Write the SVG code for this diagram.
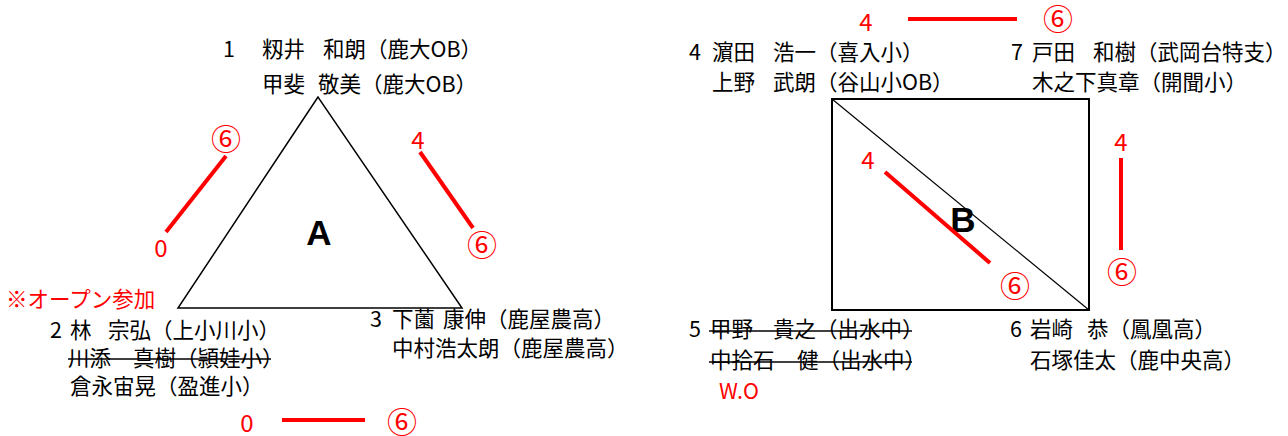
<svg xmlns="http://www.w3.org/2000/svg" width="1288" height="436" viewBox="0 0 1288 436">
<style>
.t{font-family:"Noto Sans CJK JP","Noto Sans",sans-serif;font-size:21.5px;fill:#000}
.r{font-family:"Noto Sans CJK JP","Noto Sans",sans-serif;font-size:24px;fill:#ff0000;text-anchor:middle}
.c{font-family:"Noto Sans CJK JP","Noto Sans",sans-serif;font-size:30px;fill:#ff0000;text-anchor:middle}
.rs{font-family:"Noto Sans CJK JP","Noto Sans",sans-serif;font-size:21.5px;fill:#ff0000}
.big{font-family:"Liberation Sans",Arial,sans-serif;font-size:35px;font-weight:bold;fill:#000;text-anchor:middle}
.sc{stroke:#ff0000;stroke-width:4;fill:none}
.st{stroke:#000;stroke-width:1.5}
</style>
<rect width="1288" height="436" fill="#fff"/>
<g id="group-A">
<polygon points="318,97 178,308 462,308" fill="none" stroke="#000" stroke-width="1.5"/>
<text class="big" x="319" y="245">A</text>
</g>
<g id="group-B">
<rect x="832" y="99" width="257" height="211" fill="none" stroke="#000" stroke-width="2"/>
<line x1="832" y1="99" x2="1089" y2="310" stroke="#000" stroke-width="1.2"/>
<text class="big" x="963" y="232">B</text>
</g>
<g id="team1">
<text class="t" y="57"><tspan x="223">1</tspan><tspan x="262">籾井</tspan><tspan x="323">和朗（鹿大OB）</tspan></text>
<text class="t" y="92"><tspan x="262">甲斐</tspan><tspan x="318">敬美（鹿大OB）</tspan></text>
</g>
<g id="team2">
<text class="rs" x="6" y="307">※オープン参加</text>
<text class="t" y="338"><tspan x="50">2</tspan><tspan x="70">林</tspan><tspan x="108">宗弘（上小川小）</tspan></text>
<text class="t" y="366"><tspan x="68">川添</tspan><tspan x="133">真樹（頴娃小）</tspan></text>
<line class="st" x1="68" y1="359" x2="271" y2="359"/>
<text class="t" x="70" y="394">倉永宙晃（盈進小）</text>
</g>
<g id="team3">
<text class="t" y="327"><tspan x="370">3</tspan><tspan x="392">下薗</tspan><tspan x="443">康伸（鹿屋農高）</tspan></text>
<text class="t" x="392" y="356">中村浩太朗（鹿屋農高）</text>
</g>
<g id="team4">
<text class="t" y="60"><tspan x="689">4</tspan><tspan x="712">濵田</tspan><tspan x="773">浩一（喜入小）</tspan></text>
<text class="t" y="90"><tspan x="712">上野</tspan><tspan x="773">武朗（谷山小OB）</tspan></text>
</g>
<g id="team5">
<text class="t" y="337"><tspan x="689">5</tspan><tspan x="710">甲野</tspan><tspan x="773">貴之（出水中）</tspan></text>
<line class="st" x1="709" y1="331" x2="912" y2="331"/>
<text class="t" y="368"><tspan x="710">中拾石</tspan><tspan x="797">健（出水中）</tspan></text>
<line class="st" x1="709" y1="362" x2="912" y2="362"/>
<text class="rs" x="719" y="399">W.O</text>
</g>
<g id="team6">
<text class="t" y="337"><tspan x="1010">6</tspan><tspan x="1030">岩崎</tspan><tspan x="1087">恭（鳳凰高）</tspan></text>
<text class="t" x="1030" y="368">石塚佳太（鹿中央高）</text>
</g>
<g id="team7">
<text class="t" y="60"><tspan x="1011">7</tspan><tspan x="1032">戸田</tspan><tspan x="1093">和樹（武岡台特支）</tspan></text>
<text class="t" x="1032" y="90">木之下真章（開聞小）</text>
</g>
<g id="connectors">
<line class="sc" x1="226" y1="156" x2="166" y2="232"/>
<text class="c" x="226" y="150">⑥</text>
<text class="r" x="161" y="257">0</text>
<line class="sc" x1="420" y1="152" x2="473" y2="228"/>
<text class="r" x="418" y="149">4</text>
<text class="c" x="482" y="256">⑥</text>
<line class="sc" x1="282" y1="420" x2="365" y2="420"/>
<text class="r" x="247" y="432">0</text>
<text class="c" x="402" y="433">⑥</text>
<line class="sc" x1="908" y1="19" x2="1017" y2="19"/>
<text class="r" x="866" y="31">4</text>
<text class="c" x="1058" y="30">⑥</text>
<line class="sc" x1="885" y1="172" x2="990" y2="263"/>
<text class="r" x="868" y="169">4</text>
<text class="c" x="1015" y="297">⑥</text>
<line class="sc" x1="1121" y1="158" x2="1121" y2="250"/>
<text class="r" x="1121" y="151">4</text>
<text class="c" x="1122" y="283">⑥</text>
</g>
</svg>
